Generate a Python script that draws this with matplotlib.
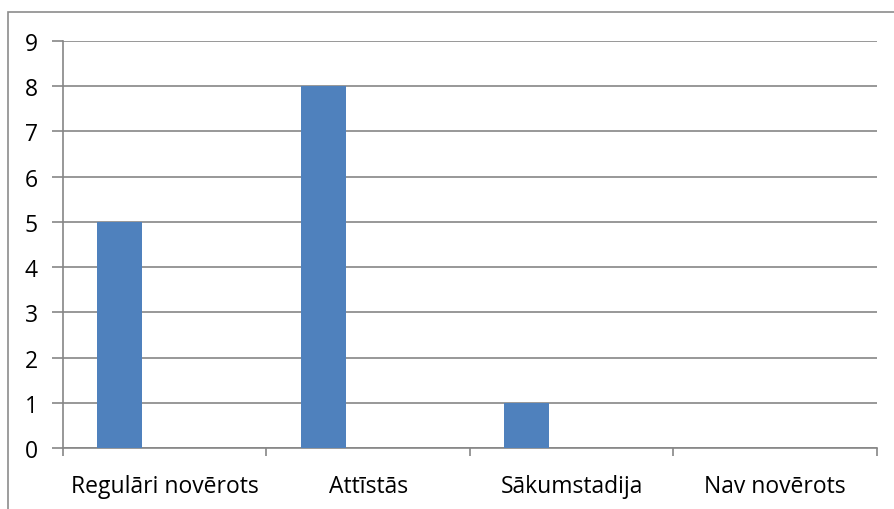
import matplotlib.pyplot as plt
import numpy as np
from matplotlib.patches import Rectangle

plt.rcParams['font.family'] = ['Open Sans', 'DejaVu Sans']

categories = ["Regulāri novērots", "Attīstās", "Sākumstadija", "Nav novērots"]
values = [5, 8, 1, 0]
y_ticks = list(range(0, 10))

W, H = 894, 510
fig = plt.figure(figsize=(W / 100, H / 100), dpi=100)
# plot area in pixels: left 63, right 877, top 42, bottom 449
ax = fig.add_axes([63 / W, 1 - 449 / H, (877 - 63) / W, (449 - 42) / H])

# outer chart border (cropped on the right and bottom in the original)
fig.patches.append(Rectangle((8 / W, -0.1), 1.1, 1 - 13 / H + 0.1,
                             transform=fig.transFigure, fill=False,
                             edgecolor='#8c8c8c', linewidth=1.2))

grey = '#868686'
x = np.arange(len(categories))
ax.bar(x - 0.222, values, width=0.221, color='#4F81BD', zorder=3)

ax.set_xlim(-0.5, len(categories) - 0.5)
ax.set_ylim(0, 9)
ax.set_yticks(y_ticks)
ax.yaxis.grid(True, color=grey, linewidth=1.2, zorder=0)
ax.set_axisbelow(True)

ax.set_xticks(x)
ax.set_xticklabels(categories, fontsize=16.5)
ax.tick_params(axis='x', length=0, pad=19)
ax.set_xticks(np.arange(len(categories) + 1) - 0.5, minor=True)
ax.tick_params(axis='x', which='minor', length=6, color=grey, width=1.2, direction='out')
ax.tick_params(axis='y', labelsize=16.5, length=8, color=grey, width=1.2, pad=10)

for s in ['top', 'right']:
    ax.spines[s].set_visible(False)
for s in ['left', 'bottom']:
    ax.spines[s].set_color(grey)
    ax.spines[s].set_linewidth(1.2)

fig.savefig('out.png', dpi=100)
